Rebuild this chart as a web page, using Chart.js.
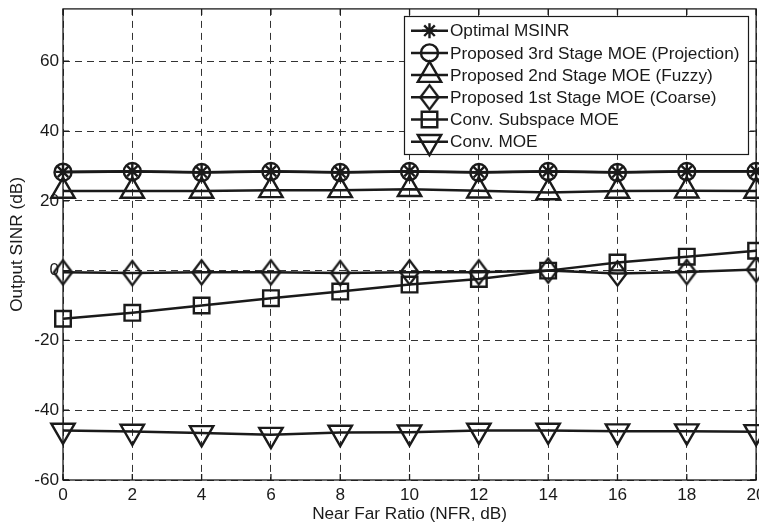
<!DOCTYPE html>
<html><head><meta charset="utf-8">
<script src="https://cdn.jsdelivr.net/npm/chart.js@4/dist/chart.umd.min.js"></script>
<style>
html,body{margin:0;padding:0;background:#fff;overflow:hidden;width:759px;height:523px}
#wrap{position:relative;top:-7px;width:772px;height:530px}
</style></head>
<body><div id="wrap"><canvas id="c" width="772" height="530"></canvas></div>
<script>
// ---- data ----
const nfr = [0, 2, 4, 6, 8, 10, 12, 14, 16, 18, 20];
const xTicks = [0, 2, 4, 6, 8, 10, 12, 14, 16, 18, 20];
const yTicks = [-60, -40, -20, 0, 20, 40, 60];
const seriesNames = [
  'Optimal MSINR',
  'Proposed 3rd Stage MOE (Projection)',
  'Proposed 2nd Stage MOE (Fuzzy)',
  'Proposed 1st Stage MOE (Coarse)',
  'Conv. Subspace MOE',
  'Conv. MOE'
];
const optimalMSINR = [28.3, 28.5, 28.2, 28.5, 28.2, 28.5, 28.2, 28.5, 28.2, 28.5, 28.5];
const stage3Projection = [28.2, 28.4, 28.1, 28.4, 28.1, 28.4, 28.1, 28.4, 28.1, 28.4, 28.4];
const stage2Fuzzy = [22.8, 22.8, 22.8, 23.0, 23.0, 23.3, 22.9, 22.4, 22.8, 22.9, 22.8];
const stage1Coarse = [-0.5, -0.7, -0.5, -0.5, -0.7, -0.5, -0.5, 0.0, -0.8, -0.4, 0.3];
const convSubspace = [-13.8, -12.1, -10.0, -7.9, -6.0, -4.0, -2.4, 0.0, 2.3, 4.0, 5.7];
const convMOE = [-45.8, -46.1, -46.5, -47.0, -46.4, -46.3, -45.8, -45.8, -46.0, -46.0, -46.2];

// ---- styling ----
const INK = '#1a1a1a';
const FONT = {family: '"Liberation Sans", Arial, Helvetica, sans-serif', size: 17.2};
const SHIFT = 7; // canvas is shifted up by this many px

function makeDiamond(w, h, lw) {
  const c = document.createElement('canvas');
  c.width = Math.ceil(w + lw * 2); c.height = Math.ceil(h + lw * 2);
  const g = c.getContext('2d');
  g.lineWidth = lw; g.strokeStyle = INK; g.lineJoin = 'miter';
  g.beginPath();
  g.moveTo(c.width / 2, lw); g.lineTo(c.width - lw, c.height / 2);
  g.lineTo(c.width / 2, c.height - lw); g.lineTo(lw, c.height / 2);
  g.closePath(); g.stroke();
  return c;
}
const diamondImg = makeDiamond(18, 24, 2.4);

const pts = arr => nfr.map((x, i) => ({x, y: arr[i]}));
function ds(label, arr, style, radius, rotation) {
  return {
    label, data: pts(arr), showLine: true, tension: 0,
    borderColor: INK, borderWidth: 2.5,
    pointStyle: style, pointRadius: radius, pointHoverRadius: radius,
    pointRotation: rotation || 0,
    pointBorderColor: INK, pointBackgroundColor: 'rgba(0,0,0,0)', pointBorderWidth: 2.4,
    clip: false
  };
}

const frameTicks = {
  id: 'frameTicks',
  beforeDatasetsDraw(chart) {
    const {ctx, chartArea: a, scales} = chart;
    ctx.save();
    ctx.strokeStyle = INK; ctx.lineWidth = 1.3; ctx.setLineDash([]);
    ctx.beginPath();
    xTicks.forEach(v => {
      const x = scales.x.getPixelForValue(v);
      ctx.moveTo(x, a.bottom); ctx.lineTo(x, a.bottom - 6);
      ctx.moveTo(x, a.top); ctx.lineTo(x, a.top + 6);
    });
    yTicks.forEach(v => {
      const y = scales.y.getPixelForValue(v);
      ctx.moveTo(a.left, y); ctx.lineTo(a.left + 6, y);
      ctx.moveTo(a.right, y); ctx.lineTo(a.right - 6, y);
    });
    ctx.stroke();
    ctx.strokeRect(a.left, a.top, a.right - a.left, a.bottom - a.top);
    ctx.restore();
  }
};

const boxLegend = {
  id: 'boxLegend',
  afterDraw(chart) {
    const ctx = chart.ctx;
    const L = {x: 404, y: 16 + SHIFT, w: 344, h: 138, row0: 30.7 + SHIFT, dy: 22.2, l0: 411, l1: 448, tx: 450};
    ctx.save();
    ctx.fillStyle = '#fff';
    ctx.fillRect(L.x, L.y, L.w, L.h);
    ctx.strokeStyle = INK; ctx.lineWidth = 1.2;
    ctx.strokeRect(L.x + 0.5, L.y + 0.5, L.w, L.h);
    chart.data.datasets.forEach((d, i) => {
      const y = L.row0 + i * L.dy;
      ctx.strokeStyle = INK; ctx.lineWidth = 2.5; ctx.setLineDash([]);
      ctx.beginPath(); ctx.moveTo(L.l0, y); ctx.lineTo(L.l1, y); ctx.stroke();
      ctx.fillStyle = 'rgba(0,0,0,0)'; ctx.strokeStyle = INK; ctx.lineWidth = d.pointBorderWidth;
      Chart.helpers.drawPoint(ctx, {
        pointStyle: d.pointStyle, radius: d.pointRadius, rotation: d.pointRotation,
        borderWidth: d.pointBorderWidth
      }, (L.l0 + L.l1) / 2, y);
      ctx.fillStyle = INK;
      ctx.font = `${FONT.size}px ${FONT.family}`;
      ctx.textBaseline = 'middle'; ctx.textAlign = 'left';
      ctx.fillText(d.label, L.tx, y + 1);
    });
    ctx.restore();
  }
};

new Chart(document.getElementById('c'), {
  type: 'scatter',
  data: {
    datasets: [
      ds(seriesNames[0], optimalMSINR, 'star', 7.5),
      ds(seriesNames[1], stage3Projection, 'circle', 8.5),
      ds(seriesNames[2], stage2Fuzzy, 'triangle', 13.5),
      ds(seriesNames[3], stage1Coarse, diamondImg, 11),
      ds(seriesNames[4], convSubspace, 'rect', 11),
      ds(seriesNames[5], convMOE, 'triangle', 13.5, 180)
    ]
  },
  options: {
    responsive: false, animation: false, devicePixelRatio: 1,
    layout: {padding: 0},
    plugins: {legend: {display: false}, tooltip: {enabled: false}},
    events: [],
    scales: {
      x: {
        type: 'linear', min: 0, max: 20,
        afterBuildTicks: s => { s.ticks = xTicks.map(v => ({value: v})); },
        afterFit: s => { s.height = 43; },
        grid: {color: '#333', lineWidth: 1, drawTicks: false},
        border: {display: false, dash: [7, 5]},
        ticks: {color: INK, font: FONT, padding: 5, maxRotation: 0},
        title: {display: true, text: 'Near Far Ratio (NFR, dB)', color: INK, font: FONT, padding: {top: 0, bottom: -2}}
      },
      y: {
        type: 'linear', min: -60, max: 75,
        afterBuildTicks: s => { s.ticks = yTicks.map(v => ({value: v})); },
        afterFit: s => { s.width = 63; },
        grid: {color: '#333', lineWidth: 1, drawTicks: false},
        border: {display: false, dash: [7, 5]},
        ticks: {color: INK, font: FONT, padding: 4},
        title: {display: true, text: 'Output SINR (dB)', color: INK, font: FONT, padding: {top: 7, bottom: 0}}
      }
    }
  },
  plugins: [frameTicks, boxLegend]
});
</script>
</body></html>
